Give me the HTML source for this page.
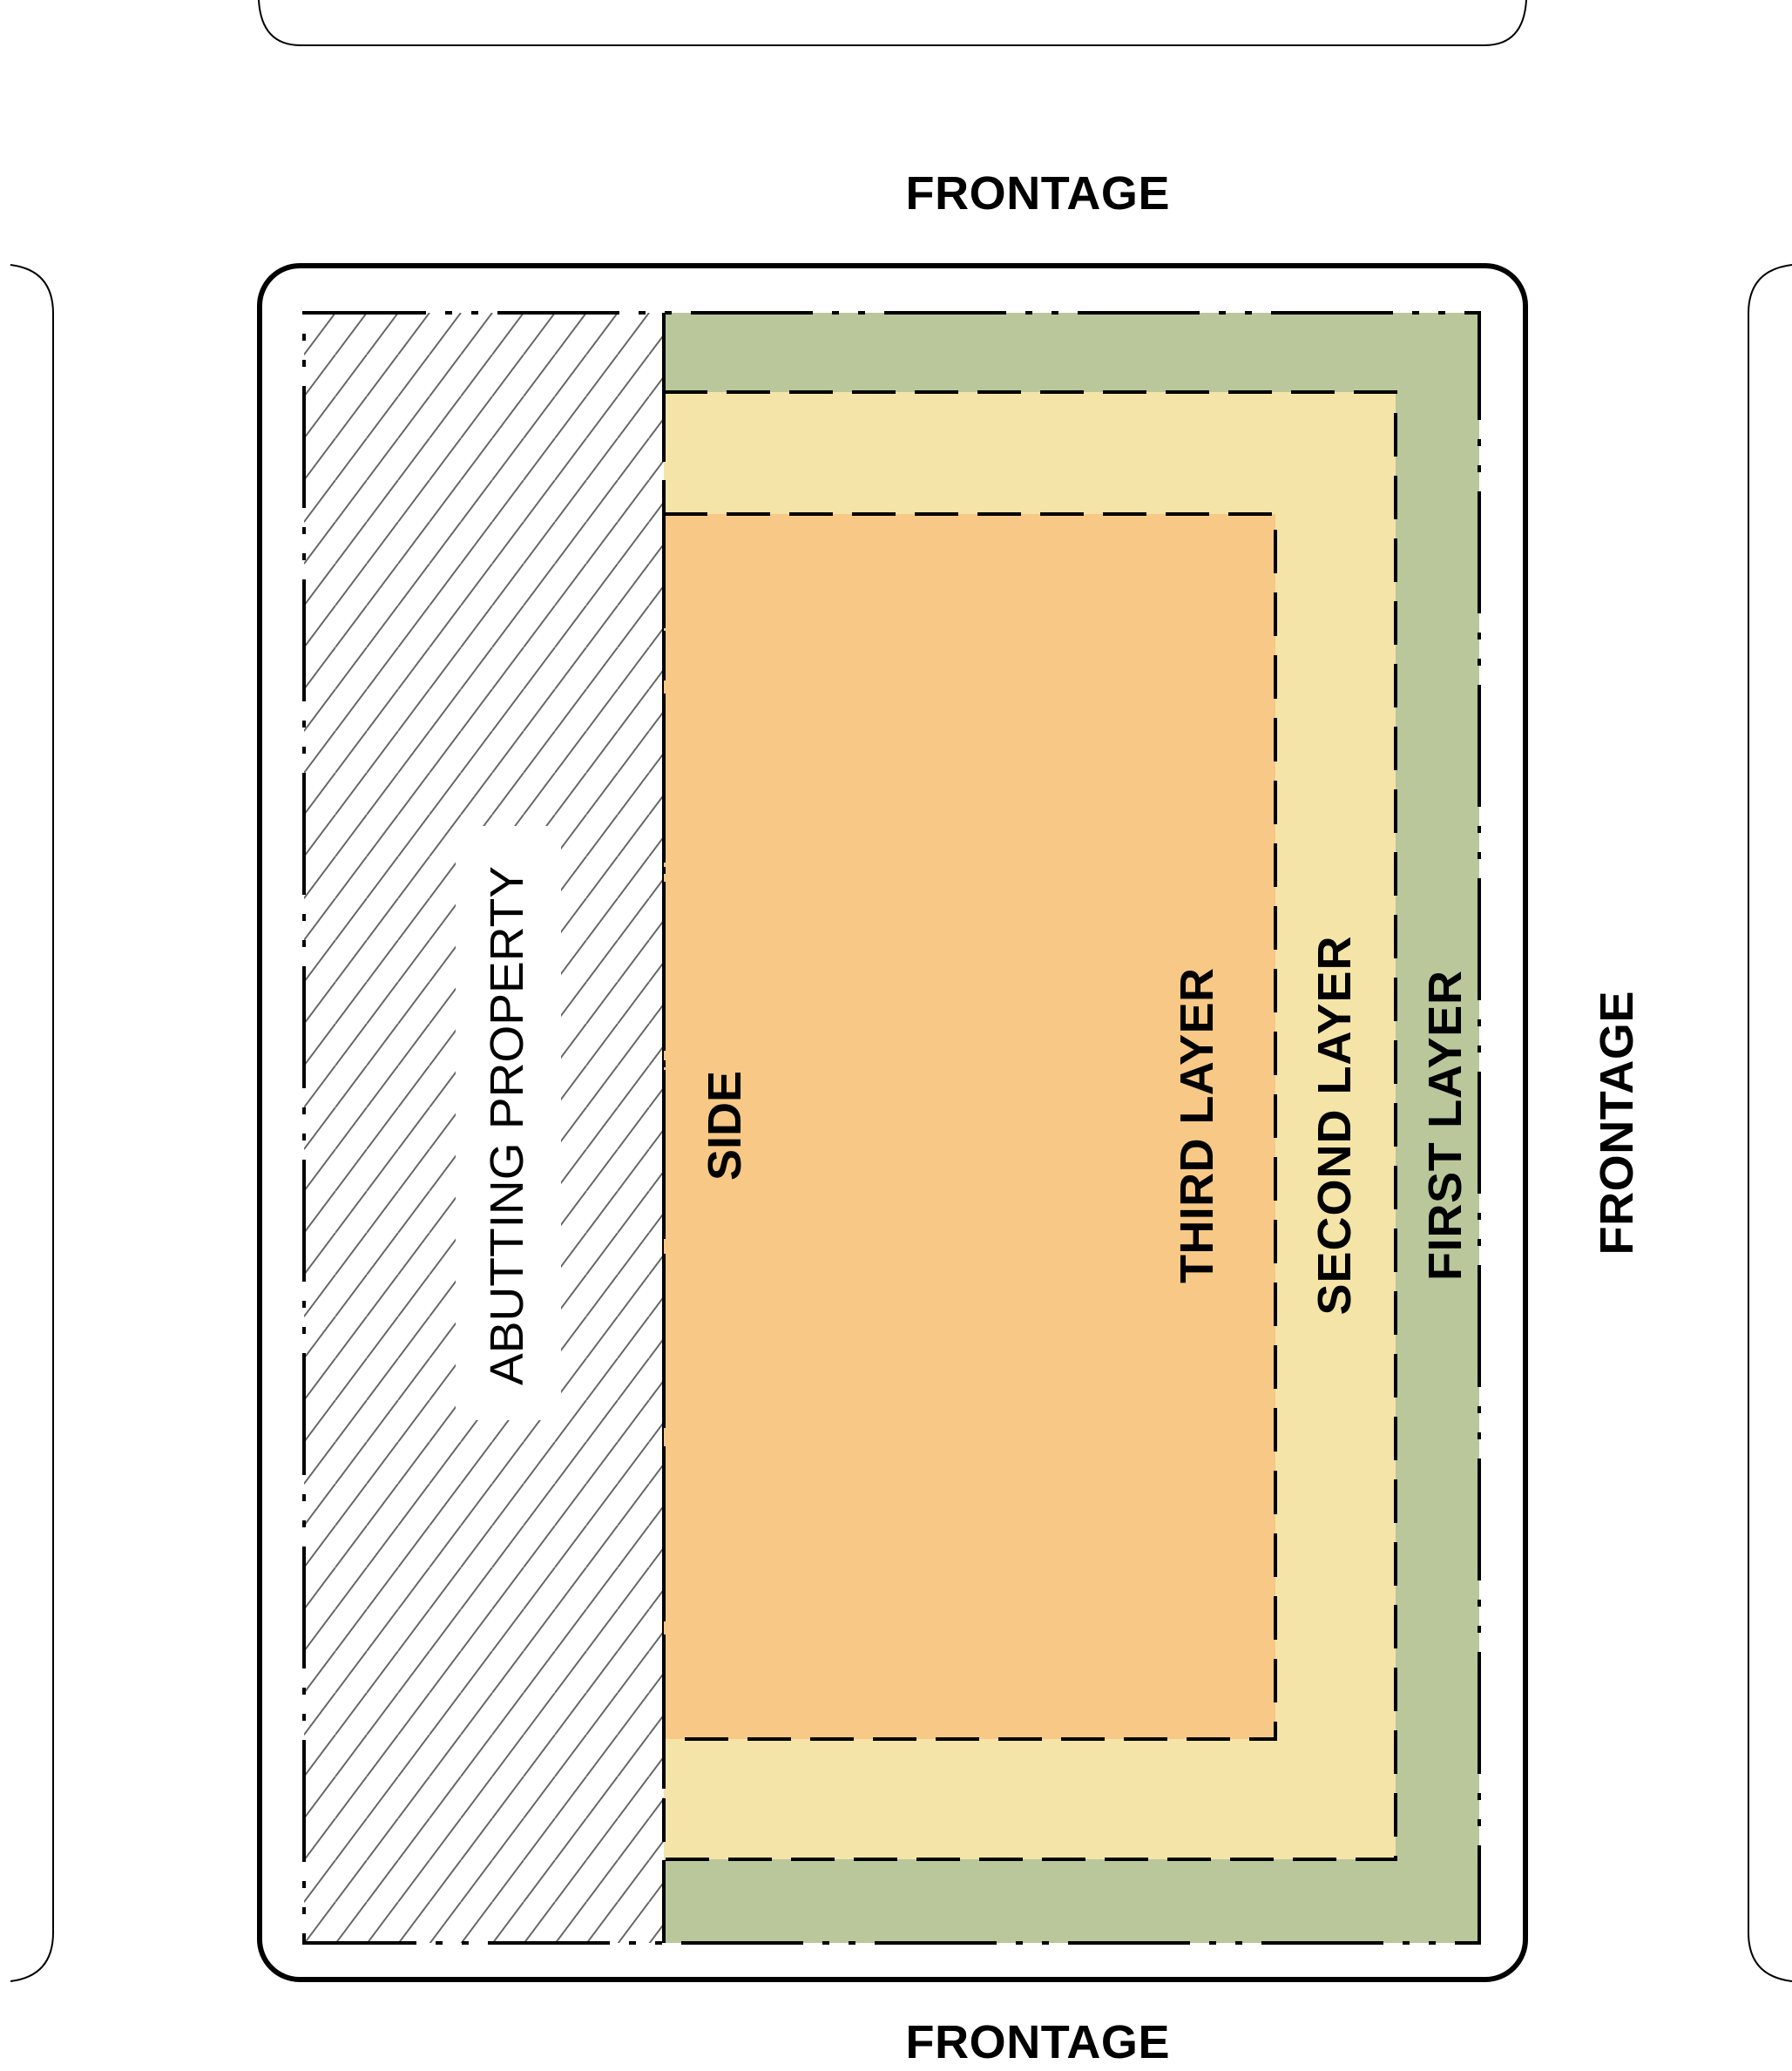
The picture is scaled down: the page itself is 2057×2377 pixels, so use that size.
<!DOCTYPE html>
<html><head><meta charset="utf-8"><style>html,body{margin:0;padding:0;background:#fff}svg{display:block}</style></head>
<body>
<svg width="2057" height="2377" viewBox="0 0 2057 2377" xmlns="http://www.w3.org/2000/svg">
<defs>
<pattern id="h" patternUnits="userSpaceOnUse" width="36" height="48" patternTransform="translate(349,359)">
<line x1="-36" y1="48" x2="0" y2="0" stroke="#666" stroke-width="2"/>
<line x1="0" y1="48" x2="36" y2="0" stroke="#666" stroke-width="2"/>
<line x1="36" y1="48" x2="72" y2="0" stroke="#666" stroke-width="2"/>
</pattern>
</defs>
<rect width="2057" height="2377" fill="#fff"/>
<path d="M297 0 Q300 52 345 52 L1704 52 Q1749 52 1752 0" fill="none" stroke="#000" stroke-width="2"/>
<path d="M12 304 Q61 310 61 360 L61 2218 Q61 2268 12 2274" fill="none" stroke="#000" stroke-width="2"/>
<path d="M2057 304 Q2007 310 2007 360 L2007 2218 Q2007 2268 2057 2274" fill="none" stroke="#000" stroke-width="2"/>
<rect x="298" y="305" width="1453" height="1967" rx="46" fill="#fff" stroke="#000" stroke-width="6"/>
<rect x="349" y="359" width="413" height="1871" fill="url(#h)"/>
<rect x="523" y="948" width="121" height="682" fill="#fff"/>
<rect x="762" y="359" width="936" height="1871" fill="#b9c79b"/>
<rect x="762" y="450" width="840" height="1684" fill="#f5e4a8" stroke="#000" stroke-width="4" stroke-dasharray="50 22"/>
<rect x="762" y="590" width="702" height="1406" fill="#f7c886" stroke="#000" stroke-width="4" stroke-dasharray="50 22"/>
<rect x="349" y="359" width="1349" height="1871" fill="none" stroke="#000" stroke-width="4" stroke-dasharray="140 22 8 22 8 22"/>
<line x1="762" y1="359" x2="762" y2="2230" stroke="#000" stroke-width="4" stroke-dasharray="140 22 8 22 8 22"/>
<g font-family="Liberation Sans, sans-serif" font-size="54" font-weight="bold" text-anchor="middle" fill="#000">
<text x="1191" y="240" textLength="303">FRONTAGE</text>
<text x="1191" y="2362" textLength="303">FRONTAGE</text>
<text transform="translate(1874,1289) rotate(-90)" textLength="303">FRONTAGE</text>
<text transform="translate(850,1292) rotate(-90)" textLength="126">SIDE</text>
<text transform="translate(1392,1292) rotate(-90)" textLength="362">THIRD LAYER</text>
<text transform="translate(1550,1292) rotate(-90)" textLength="435">SECOND LAYER</text>
<text transform="translate(1677,1292) rotate(-90)" textLength="356">FIRST LAYER</text>
</g>
<text transform="translate(600,1292) rotate(-90)" font-family="Liberation Sans, sans-serif" font-size="54" text-anchor="middle" textLength="596" lengthAdjust="spacingAndGlyphs">ABUTTING PROPERTY</text>
</svg>
</body></html>
